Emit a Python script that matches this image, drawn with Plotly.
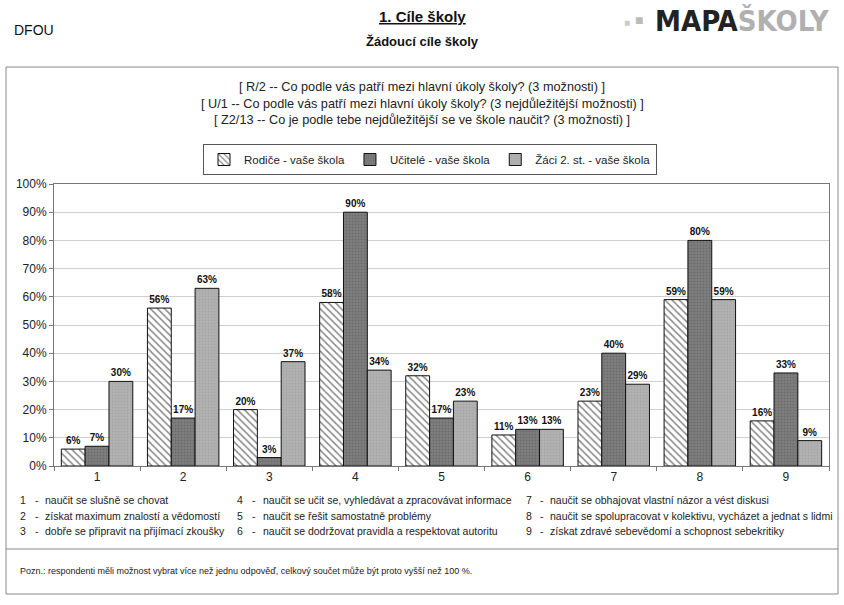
import plotly.graph_objects as go

categories = ["1", "2", "3", "4", "5", "6", "7", "8", "9"]
rodice = [6, 56, 20, 58, 32, 11, 23, 59, 16]
ucitele = [7, 17, 3, 90, 17, 13, 40, 80, 33]
zaci = [30, 63, 37, 34, 23, 13, 29, 59, 9]
series_names = ["Rodiče - vaše škola", "Učitelé - vaše škola", "Žáci 2. st. - vaše škola"]
ytick_vals = [0, 10, 20, 30, 40, 50, 60, 70, 80, 90, 100]
ytick_text = [f"{v}%" for v in ytick_vals]
footer_items = [
    ("1", "naučit se slušně se chovat"),
    ("2", "získat maximum znalostí a vědomostí"),
    ("3", "dobře se připravit na přijímací zkoušky"),
    ("4", "naučit se učit se, vyhledávat a zpracovávat informace"),
    ("5", "naučit se řešit samostatně problémy"),
    ("6", "naučit se dodržovat pravidla a respektovat autoritu"),
    ("7", "naučit se obhajovat vlastní názor a vést diskusi"),
    ("8", "naučit se spolupracovat v kolektivu, vycházet a jednat s lidmi"),
    ("9", "získat zdravé sebevědomí a schopnost sebekritiky"),
]
questions = [
    "[ R/2 -- Co podle vás patří mezi hlavní úkoly školy? (3 možnosti) ]",
    "[ U/1 -- Co podle vás patří mezi hlavní úkoly školy? (3 nejdůležitější možnosti) ]",
    "[ Z2/13 -- Co je podle tebe nejdůležitější se ve škole naučit? (3 možnosti) ]",
]
note = "Pozn.: respondenti měli možnost vybrat více než jednu odpověď, celkový součet může být proto vyšší než 100 %."

SW, SH = 844, 605
L, R, T, B = 54, 829, 184, 466
FONT = "Liberation Sans, Arial, sans-serif"

def px(x):
    return (x - L) / (R - L)

def py(y):
    return (B - y) / (B - T)

fig = go.Figure()
label_font = dict(family=FONT, size=10, color="#111")
fig.add_trace(go.Bar(
    x=categories, y=rodice, name=series_names[0],
    marker=dict(color="white", line=dict(color="#111", width=1),
                pattern=dict(shape="\\", fgcolor="#111", bgcolor="white", size=5, solidity=0.3)),
    text=[f"<b>{v}%</b>" for v in rodice], textposition="outside", textfont=label_font,
    constraintext="none", cliponaxis=False,
))
fig.add_trace(go.Bar(
    x=categories, y=ucitele, name=series_names[1],
    marker=dict(color="#747474", line=dict(color="#111", width=1),
                pattern=dict(shape=".", fgcolor="#585858", bgcolor="#7e7e7e", size=3, solidity=0.3)),
    text=[f"<b>{v}%</b>" for v in ucitele], textposition="outside", textfont=label_font,
    constraintext="none", cliponaxis=False,
))
fig.add_trace(go.Bar(
    x=categories, y=zaci, name=series_names[2],
    marker=dict(color="#ababab", line=dict(color="#111", width=1),
                pattern=dict(shape=".", fgcolor="#9a9a9a", bgcolor="#b2b2b2", size=3, solidity=0.3)),
    text=[f"<b>{v}%</b>" for v in zaci], textposition="outside", textfont=label_font,
    constraintext="none", cliponaxis=False,
))

fig.update_layout(
    width=SW, height=SH,
    margin=dict(l=L, r=SW - R, t=T, b=SH - B, autoexpand=False),
    paper_bgcolor="white", plot_bgcolor="white",
    barmode="group", bargap=0.17, bargroupgap=0,
    font=dict(family=FONT, size=12, color="#222"),
    showlegend=True,
    legend=dict(orientation="h", x=px(430), xanchor="center", y=py(144), yanchor="top",
                bordercolor="#555", borderwidth=1, font=dict(size=11.5, color="#222"),
                itemwidth=30, tracegroupgap=0),
    xaxis=dict(type="category", tickson="boundaries", ticks="outside", ticklen=4,
               tickcolor="#777", showline=True, linecolor="#777", linewidth=1, mirror=True,
               showgrid=False, tickfont=dict(size=12, color="#222")),
    yaxis=dict(range=[0, 100], tickvals=ytick_vals, ticktext=ytick_text, ticks="outside",
               ticklen=4, tickcolor="#777", showline=True, linecolor="#777", linewidth=1,
               mirror=True, showgrid=True, gridcolor="#cfcfcf", gridwidth=1,
               zeroline=False, tickfont=dict(size=12, color="#222")),
)

shapes = []
shapes.append(dict(type="rect", xref="paper", yref="paper", x0=px(6), x1=px(838), y0=py(594), y1=py(67),
                   line=dict(color="#888", width=1)))
shapes.append(dict(type="line", xref="paper", yref="paper", x0=px(6), x1=px(838), y0=py(549), y1=py(549),
                   line=dict(color="#888", width=1)))
fig.update_layout(shapes=shapes)

ann = []
ann.append(dict(text="<b><u>1. Cíle školy</u></b>", x=px(422), y=py(16), xref="paper", yref="paper",
                showarrow=False, font=dict(size=15, color="#111"), xanchor="center", yanchor="middle"))
ann.append(dict(text="<b>Žádoucí cíle školy</b>", x=px(422), y=py(41), xref="paper", yref="paper",
                showarrow=False, font=dict(size=13, color="#111"), xanchor="center", yanchor="middle"))
ann.append(dict(text="DFOU", x=px(12), y=py(30), xref="paper", yref="paper",
                showarrow=False, font=dict(size=14, color="#111"), xanchor="left", yanchor="middle"))
ann.append(dict(text="<b>MAPA</b><span style='color:#b0b0b0'><b>ŠKOLY</b></span>", x=px(653), y=py(21),
                xref="paper", yref="paper", showarrow=False,
                font=dict(size=29, color="#222", family="Liberation Sans Narrow, DejaVu Sans Condensed, Arial"),
                xanchor="left", yanchor="middle"))
ann.append(dict(text="■", x=px(639), y=py(20), xref="paper", yref="paper", showarrow=False,
                font=dict(size=14, color="#bbb"), xanchor="center", yanchor="middle"))
ann.append(dict(text="■", x=px(627), y=py(23), xref="paper", yref="paper", showarrow=False,
                font=dict(size=10, color="#ccc"), xanchor="center", yanchor="middle"))
for i, q in enumerate(questions):
    ann.append(dict(text=q, x=px(422), y=py(87 + i * 16.5), xref="paper", yref="paper",
                    showarrow=False, font=dict(size=12.7, color="#222"), xanchor="center", yanchor="middle"))

cols = [(18, 33, 43), (235, 250, 261), (524, 538, 548)]
for idx, (num, txt) in enumerate(footer_items):
    c = cols[idx // 3]
    yy = py(500 + (idx % 3) * 15.5)
    for xx, t in zip(c, [num, "-", txt]):
        ann.append(dict(text=t, x=px(xx), y=yy, xref="paper", yref="paper", showarrow=False,
                        font=dict(size=10.5, color="#222"), xanchor="left", yanchor="middle"))
ann.append(dict(text=note, x=px(18), y=py(571), xref="paper", yref="paper", showarrow=False,
                font=dict(size=9, color="#222"), xanchor="left", yanchor="middle"))
fig.update_layout(annotations=ann)

fig.write_html("out.html", config={"displayModeBar": False},
               post_script="document.body.style.margin='0px';")
